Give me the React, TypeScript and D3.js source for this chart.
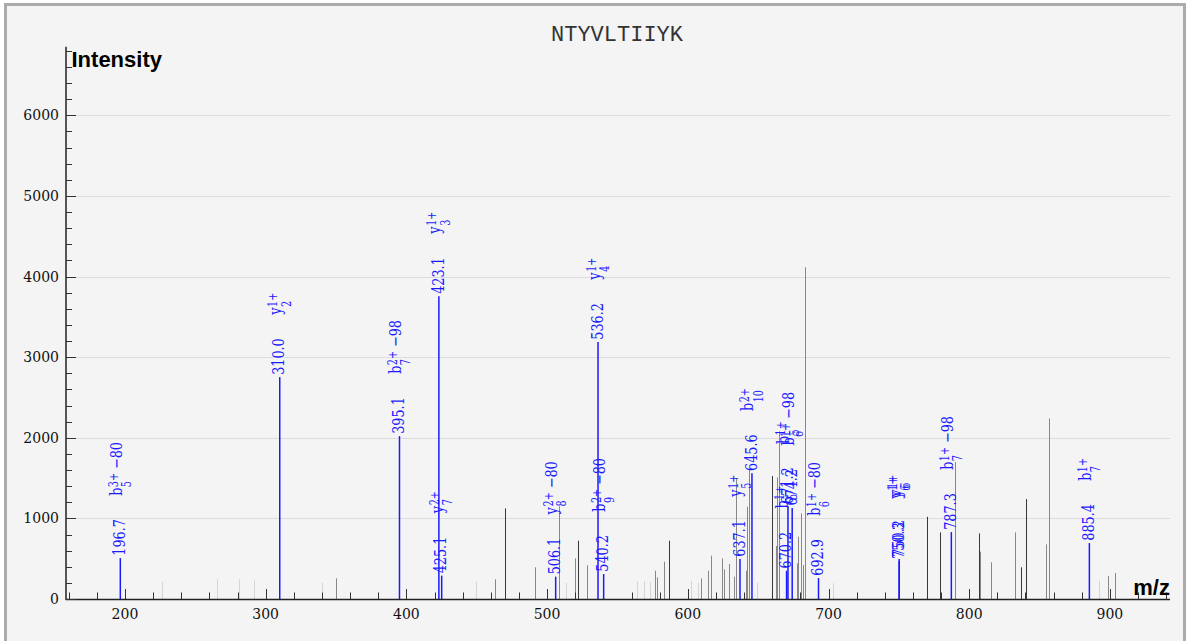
import React from "react";
import * as d3 from "d3";

const title = "NTYVLTIIYK";

// unmatched peaks: m/z, intensity, shade (0 light, 1 mid, 2 dark)
const peakMz = [226.5, 265.2, 281.0, 291.9, 340.2, 350.0, 449.3, 463.2, 470.3, 491.2, 508.5, 513.4, 520.0, 522.2, 528.1, 564.2, 569.0, 573.1, 576.9, 578.1, 583.3, 586.4, 602.5, 607.5, 609.2, 614.1, 616.3, 624.1, 625.9, 629.3, 633.0, 634.3, 641.4, 642.1, 643.7, 649.4, 659.6, 662.4, 663.4, 665.0, 677.4, 678.5, 680.2, 682.1, 683.5, 703.4, 769.8, 779.2, 789.9, 807.0, 807.7, 815.5, 832.5, 836.6, 840.4, 854.6, 856.7, 892.5, 898.4, 903.6];
const peakIntensity = [215, 244, 244, 230, 200, 256, 215, 244, 1124, 393, 1150, 202, 504, 723, 418, 220, 220, 210, 351, 269, 463, 723, 223, 200, 256, 351, 537, 504, 368, 434, 277, 1500, 351, 1144, 1600, 202, 1525, 657, 1508, 2080, 442, 773, 1062, 421, 4115, 194, 1020, 827, 1700, 814, 587, 455, 827, 393, 1240, 678, 2240, 227, 285, 322];
const peakShade = [0, 0, 0, 0, 0, 1, 0, 1, 2, 1, 1, 0, 1, 2, 1, 0, 0, 0, 1, 1, 1, 2, 0, 0, 1, 1, 1, 1, 1, 1, 1, 1, 1, 1, 1, 0, 2, 1, 1, 1, 1, 1, 1, 1, 1, 0, 2, 2, 1, 2, 1, 1, 1, 2, 2, 1, 1, 0, 1, 1];

// matched (annotated) peaks
const matchedMz = [196.7, 310.0, 395.1, 423.1, 425.1, 506.1, 536.2, 540.2, 637.1, 645.6, 670.2, 671.2, 674.2, 692.9, 750.2, 750.3, 787.3, 885.4];
const matchedIntensity = [508, 2752, 2021, 3757, 290, 277, 3188, 310, 496, 1560, 350, 1150, 1130, 260, 496, 470, 830, 694];
const ionType = ["b", "y", "b", "y", "y", "y", "y", "b", "y", "b", "b", "b", "b", "b", "y", "y", "b", "b"];
const ionNumber = ["5", "2", "7", "3", "7", "8", "4", "9", "5", "10", "5", "5", "6", "6", "6", "6", "7", "7"];
const ionCharge = ["3+", "1+", "2+", "1+", "2+", "2+", "1+", "2+", "1+", "2+", "1+", "1+", "1+", "1+", "1+", "1+", "1+", "1+"];
const ionLoss = ["\u221280", "", "\u221298", "", "", "\u221280", "", "\u221280", "", "", "", "", "\u221298", "\u221280", "", "", "\u221298", ""];

const xTickValues = [200, 300, 400, 500, 600, 700, 800, 900];
const yTickValues = [0, 1000, 2000, 3000, 4000, 5000, 6000];

const shadeColor = ["#d4d4d4", "#888888", "#383838"];
const BLUE = "#1a1aff";

// approximate DejaVu Serif advance widths (em)
const charW = (s: string) =>
  s.split("").reduce((a, c) => a + (c === "+" || c === "\u2212" ? 0.838 : c === "." || c === " " ? 0.318 : c === "b" ? 0.64 : c === "y" ? 0.592 : 0.636), 0);

export default function App() {
  const W = 1188;
  const H = 641;
  const x = d3.scaleLinear().domain([158.1, 942.7]).range([66, 1170]);
  const y = d3.scaleLinear().domain([0, 6850]).range([599, 46.8]);
  const minorX = d3.range(160, 941, 20);
  const minorY = d3.range(0, 6801, 200);
  const serif = "'DejaVu Serif', serif";
  const fs = 16;
  const sfs = 12;
  const sq = 0.8; // condensation along text direction

  return (
    <svg
      width={W}
      height={H}
      style={{ position: "absolute", left: 0, top: 0, background: "#ffffff" }}
    >
      <rect x={5.5} y={4.5} width={1179} height={700} fill="#f4f4f4" stroke="#ababab" strokeWidth={3} />
      <text x={617} y={41} textAnchor="middle" fontFamily="'Liberation Mono', 'Courier New', monospace" fontSize={22} fill="#333">
        {title}
      </text>

      {/* grid */}
      {yTickValues.filter((v) => v > 0).map((v) => (
        <line key={"g" + v} x1={66} x2={1170} y1={Math.round(y(v)) + 0.5} y2={Math.round(y(v)) + 0.5} stroke="#dcdcdc" strokeWidth={1} />
      ))}

      {/* unmatched peaks */}
      {peakMz.map((m, i) => (
        <line
          key={"p" + i}
          x1={Math.round(x(m)) + 0.5}
          x2={Math.round(x(m)) + 0.5}
          y1={y(0)}
          y2={y(peakIntensity[i])}
          stroke={shadeColor[peakShade[i]]}
          strokeWidth={1}
        />
      ))}

      {/* matched peaks */}
      {matchedMz.map((m, i) => {
        const px = x(m);
        const top = y(matchedIntensity[i]);
        const ionStart = 60 / sq;
        const baseW = charW(ionType[i]) * fs + 0.5;
        const stackW = Math.max(charW(ionNumber[i]), charW(ionCharge[i])) * sfs;
        return (
          <g key={"m" + i}>
            <line x1={px} x2={px} y1={y(0)} y2={top} stroke={BLUE} strokeWidth={1.5} />
            <g transform={`translate(${px},${top - 2.3}) rotate(-90) scale(${sq},1)`} fill={BLUE} fontFamily={serif}>
              <text x={0} y={4.7} fontSize={fs}>{m.toFixed(1)}</text>
              <text x={ionStart} y={1.5} fontSize={fs}>{ionType[i]}</text>
              <text x={ionStart + baseW} y={10.8} fontSize={sfs}>{ionNumber[i]}</text>
              <text x={ionStart + baseW} y={-2.5} fontSize={sfs}>{ionCharge[i]}</text>
              {ionLoss[i] && (
                <text x={ionStart + baseW + stackW + 5} y={1.5} fontSize={fs}>{ionLoss[i]}</text>
              )}
            </g>
          </g>
        );
      })}

      {/* axes */}
      <line x1={66} x2={66} y1={46.8} y2={599.5} stroke="#222" strokeWidth={1.5} />
      <line x1={65.5} x2={1170} y1={599.5} y2={599.5} stroke="#222" strokeWidth={1.5} />

      {minorY.map((v) => {
        const major = v % 1000 === 0;
        const yy = Math.round(y(v)) + 0.5;
        return <line key={"ty" + v} x1={66} x2={66 + (major ? 10 : 6)} y1={yy} y2={yy} stroke="#333" strokeWidth={1} />;
      })}
      {minorX.map((v) => {
        const major = v % 100 === 0;
        const xx = Math.round(x(v)) + 0.5;
        return <line key={"tx" + v} x1={xx} x2={xx} y1={599} y2={599 - (major ? 10 : 6.5)} stroke="#333" strokeWidth={1} />;
      })}

      {yTickValues.map((v) => (
        <text key={"ly" + v} x={59} y={y(v)} dy="0.36em" textAnchor="end" fontFamily={serif} fontSize={14} fill="#111">
          {v}
        </text>
      ))}
      {xTickValues.map((v) => (
        <text key={"lx" + v} x={x(v)} y={619} textAnchor="middle" fontFamily={serif} fontSize={14} fill="#111">
          {v}
        </text>
      ))}

      <text x={71.5} y={66.7} fontFamily="'Liberation Sans', Arial, sans-serif" fontWeight="bold" fontSize={22} fill="#000">
        Intensity
      </text>
      <text x={1170} y={595} textAnchor="end" fontFamily="'Liberation Sans', Arial, sans-serif" fontWeight="bold" fontSize={22} fill="#000">
        m/z
      </text>
    </svg>
  );
}
